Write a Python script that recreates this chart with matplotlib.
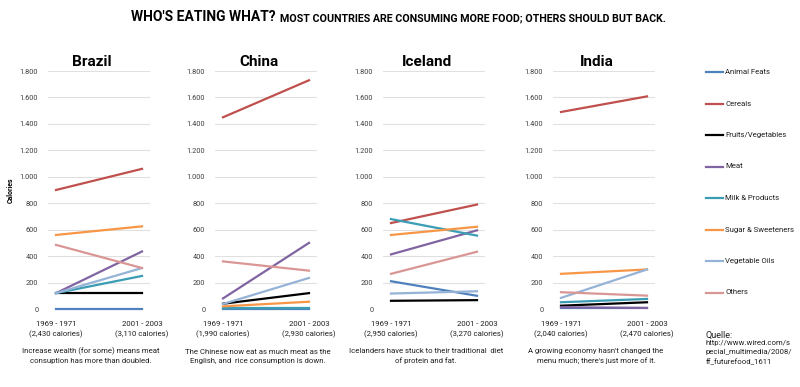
import matplotlib.pyplot as plt

# data (calories per day)
countries = ["Brazil", "China", "Iceland", "India"]
periods = ["1969 - 1971", "2001 - 2003"]
totals = [["(2,430 calories)", "(3,110 calories)"],
          ["(1,990 calories)", "(2,930 calories)"],
          ["(2,950 calories)", "(3,270 calories)"],
          ["(2,040 calories)", "(2,470 calories)"]]
notes = ["Increase wealth (for some) means meat\nconsuption has more than doubled.",
         "The Chinese now eat as much meat as the\nEnglish, and  rice consumption is down.",
         "Icelanders have stuck to their traditional  diet\nof protein and fat.",
         "A growing economy hasn't changed the\nmenu much; there's just more of it."]

foods = ["Animal Feats", "Cereals", "Fruits/Vegetables", "Meat",
         "Milk & Products", "Sugar & Sweeteners", "Vegetable Oils", "Others"]
colors = ["#4F81BD", "#C0504D", "#000000", "#8064A2",
          "#3A9DB4", "#F79646", "#95B3D7", "#D99694"]

brazil = [[0, 0], [900, 1060], [120, 120], [120, 435],
          [120, 250], [560, 625], [120, 310], [485, 310]]
china = [[3, 3], [1450, 1730], [40, 120], [80, 500],
         [5, 5], [20, 55], [38, 235], [360, 290]]
iceland = [[210, 100], [650, 790], [62, 67], [413, 595],
           [680, 555], [560, 622], [117, 134], [266, 433]]
india = [[10, 10], [1490, 1608], [25, 51], [13, 8],
         [51, 76], [266, 299], [84, 299], [127, 101]]
values = [brazil, china, iceland, india]

yticks = [0, 200, 400, 600, 800, 1000, 1200, 1400, 1600, 1800]

plt.rcParams["font.family"] = ["Roboto", "DejaVu Sans"]

W, H = 800, 387
fig = plt.figure(figsize=(W / 100, H / 100), dpi=100)
fig.patch.set_facecolor("white")
txt = "#404040"
dark = "#202020"


def fit(t, width_px):
    # shrink/grow a text so it spans the given width
    fig.canvas.draw()
    w = t.get_window_extent().width
    t.set_fontsize(t.get_fontsize() * width_px / w)


lefts = [48, 215, 383, 553]
aw, top, base = 102, 71, 309

for i, c in enumerate(countries):
    ax = fig.add_axes([lefts[i] / W, (H - base) / H, aw / W, (base - top) / H])
    for f, col, v in zip(foods, colors, values[i]):
        ax.plot([0, 1], v, color=col, lw=1.6, label=f, clip_on=False, zorder=3)
    ax.set_xlim(-0.093, 1.093)
    ax.set_ylim(0, 1800)
    ax.set_yticks(yticks)
    ax.set_yticklabels([f"{t:,}".replace(",", ".") for t in yticks],
                       fontsize=5.3, color=txt)
    ax.set_xticks([0, 1])
    ax.set_xticklabels([periods[0] + "\n" + totals[i][0],
                        periods[1] + "\n" + totals[i][1]],
                       fontsize=5.6, color=dark, linespacing=1.55)
    ax.tick_params(length=0, axis="y", pad=7)
    ax.tick_params(length=0, axis="x", pad=9)
    ax.grid(axis="y", color="#E0E0E0", lw=0.8)
    ax.set_axisbelow(True)
    for s in ax.spines.values():
        s.set_visible(False)
    fig.text((lefts[i] + aw / 2 - 7) / W, 1 - 62 / H, c, ha="center", va="center",
             fontsize=11, fontweight="bold", color="black")
    fig.text((lefts[i] + aw / 2 - 8) / W, 1 - 356 / H, notes[i], ha="center",
             va="center", fontsize=5.6, color=dark, linespacing=1.6)

fig.text(11 / W, 1 - 190 / H, "Calories", rotation=90, ha="center", va="center",
         fontsize=5, fontweight="bold")

# legend, one entry per row
for k, (f, col) in enumerate(zip(foods, colors)):
    y = 1 - (72 + k * 31.5) / H
    fig.add_artist(plt.Line2D([706 / W, 723 / W], [y, y], color=col, lw=1.6))
    fig.text(725 / W, y, f, ha="left", va="center", fontsize=5.6, color=dark)

fig.text(706 / W, 1 - 335 / H, "Quelle:", ha="left", va="center",
         fontsize=6.5, color=dark)
fig.text(706 / W, 1 - 340 / H,
         "http://www.wired.com/s\npecial_multimedia/2008/\nff_futurefood_1611",
         ha="left", va="top", fontsize=5.6, color=dark, linespacing=1.6)

t1 = fig.text(131 / W, 1 - 17 / H, "WHO'S EATING WHAT?", ha="left", va="center",
              fontsize=10, fontweight="bold")
fit(t1, 144)
bb = t1.get_window_extent()
t2 = fig.text((bb.x1 + 4) / W, 1 - 18 / H,
              "MOST COUNTRIES ARE CONSUMING MORE FOOD; OTHERS SHOULD BUT BACK.",
              ha="left", va="center", fontsize=8, fontweight="bold")
fit(t2, 668 - bb.x1 - 4)

fig.savefig("out.png", dpi=100)
